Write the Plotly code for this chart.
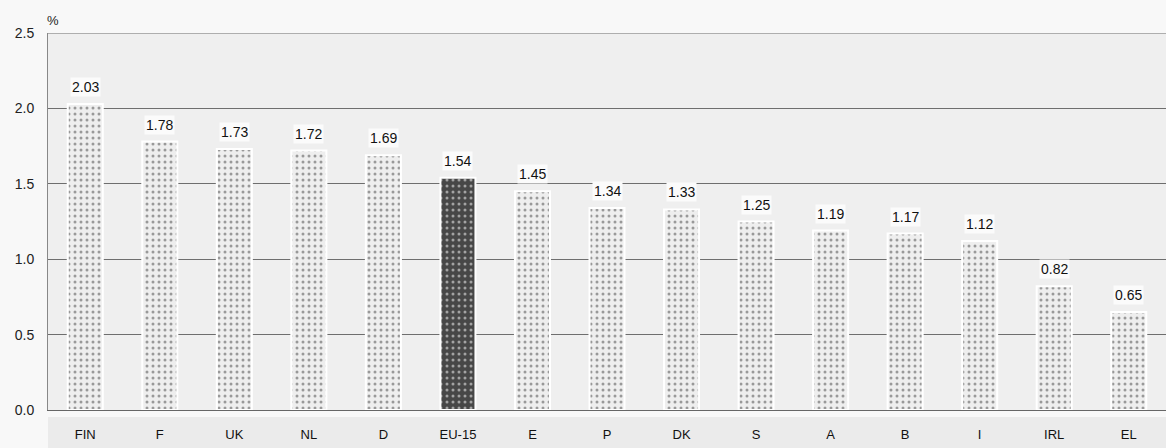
import plotly.graph_objects as go

countries = ["FIN", "F", "UK", "NL", "D", "EU-15", "E", "P", "DK", "S", "A", "B", "I", "IRL", "EL"]
values = [2.03, 1.78, 1.73, 1.72, 1.69, 1.54, 1.45, 1.34, 1.33, 1.25, 1.19, 1.17, 1.12, 0.82, 0.65]
y_ticks = [0.0, 0.5, 1.0, 1.5, 2.0, 2.5]
highlight = "EU-15"

bar_colors = ["#474747" if c == highlight else "#eeeeee" for c in countries]
pattern_fg = ["#5e5e5e" if c == highlight else "#c2c2c2" for c in countries]

fig = go.Figure()
fig.add_trace(go.Bar(
    x=countries, y=values, width=0.47,
    marker=dict(color=bar_colors, line=dict(color="white", width=2),
                pattern=dict(shape=".", fgcolor=pattern_fg, size=6, solidity=0.2)),
    hoverinfo="x+y", showlegend=False,
))

for c, v in zip(countries, values):
    fig.add_annotation(x=c, y=v, text=f"{v:.2f}", showarrow=False, yshift=17,
                       font=dict(family="Liberation Sans, Arial", size=14, color="#111"),
                       bgcolor="#fbfbfb", borderpad=1)

fig.add_annotation(xref="paper", yref="paper", x=-0.003, y=1.0, yshift=22, text="%",
                   showarrow=False, xanchor="left",
                   font=dict(family="Liberation Sans, Arial", size=13, color="#222"))

fig.add_shape(type="rect", xref="paper", yref="paper", x0=0, x1=1,
              y0=-38 / 377, y1=-7 / 377, fillcolor="#ebebeb", line=dict(width=0), layer="below")
fig.add_shape(type="line", xref="paper", yref="y", x0=0, x1=1, y0=y_ticks[-1], y1=y_ticks[-1],
              line=dict(color="#6e6e6e", width=1), layer="below")

fig.update_layout(
    width=1166, height=448,
    margin=dict(l=48, r=0, t=33, b=38),
    paper_bgcolor="#f8f8f8", plot_bgcolor="#efefef",
    font=dict(family="Liberation Sans, Arial", size=14, color="#222"),
    xaxis=dict(range=[-0.5, 14.5], showgrid=False, ticks="", showline=True,
               linecolor="#666", linewidth=1,
               tickfont=dict(size=13, color="#111"), ticklabelstandoff=12),
    yaxis=dict(range=[0, 2.5], tickvals=y_ticks, tickformat=".1f", showgrid=True,
               gridcolor="#6e6e6e", gridwidth=1, zeroline=False, showline=True,
               linecolor="#888", linewidth=1, ticks="", ticklabelstandoff=10,
               tickfont=dict(size=14, color="#222")),
)

fig.write_html("out.html")
